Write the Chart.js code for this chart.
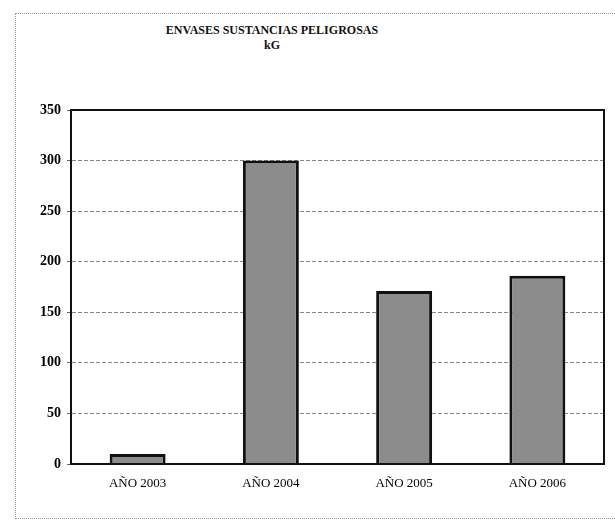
<!DOCTYPE html>
<html>
<head>
<meta charset="utf-8">
<script src="https://cdn.jsdelivr.net/npm/chart.js@4/dist/chart.umd.min.js"></script>
<style>
  body { margin: 0; background: #fff; }
  #wrap { position: relative; width: 615px; height: 531px; overflow: hidden; }
  #frame { position: absolute; left: 15px; top: 13px; width: 640px; height: 504px; border: 1px dotted #999; }
  #title { position: absolute; left: 122px; width: 300px; top: 23px; text-align: center;
           font: bold 12px "Liberation Serif", serif; line-height: 15px; color: #111; }
  canvas { position: absolute; left: 0; top: 0; }
</style>
</head>
<body>
<div id="wrap">
  <div id="frame"></div>
  <div id="title">ENVASES SUSTANCIAS PELIGROSAS<br>kG</div>
  <canvas id="chart1" width="615" height="531"></canvas>
</div>
<script>
// values
var years = ["AÑO 2003", "AÑO 2004", "AÑO 2005", "AÑO 2006"];
var kilos = [10, 300, 171, 186];
var yTicks = [0, 50, 100, 150, 200, 250, 300, 350];

// box around the plot area
var plotFrame = {
    id: 'plotFrame',
    afterDraw: function(chart) {
        var a = chart.chartArea, c = chart.ctx;
        c.save();
        c.strokeStyle = '#111';
        c.lineWidth = 2;
        c.strokeRect(a.left, a.top, a.right - a.left, a.bottom - a.top);
        c.restore();
    }
};

var ctx = document.getElementById("chart1").getContext('2d');
var chart1 = new Chart(ctx, {
    type: 'bar',
    data: {
        labels: years,
        datasets: [{
            label: 'kG',
            data: kilos,
            backgroundColor: '#8c8c8c',
            borderColor: '#111',
            borderWidth: 3,
            categoryPercentage: 1,
            barPercentage: 0.42
        }]},
    options: {
        responsive: false,
        animation: false,
        layout: { padding: { left: 16, top: 110, right: 11, bottom: 0 } },
        plugins: { legend: { display: false }, title: { display: false }, tooltip: { enabled: false } },
        scales: {
            x: {
                grid: { display: false, drawTicks: false },
                border: { color: '#111', width: 2 },
                ticks: { color: '#000', padding: 12, font: { family: "'Liberation Serif', serif", size: 13 } },
                afterFit: function(s) { s.height = 531 - 464; }
            },
            y: {
                min: 0, max: 350,
                afterBuildTicks: function(s) { s.ticks = yTicks.map(function(v) { return { value: v }; }); },
                grid: { color: '#888', tickColor: '#666', tickLength: 4 },
                border: { color: '#111', width: 2, dash: [4, 2] }, // dashed gridlines
                ticks: { color: '#000', padding: 6, font: { family: "'Liberation Serif', serif", size: 14, weight: 'bold' } },
                afterFit: function(s) { s.width = 71 - 16; }
            }
        }
    },
    plugins: [plotFrame]
});
</script>
</body>
</html>
